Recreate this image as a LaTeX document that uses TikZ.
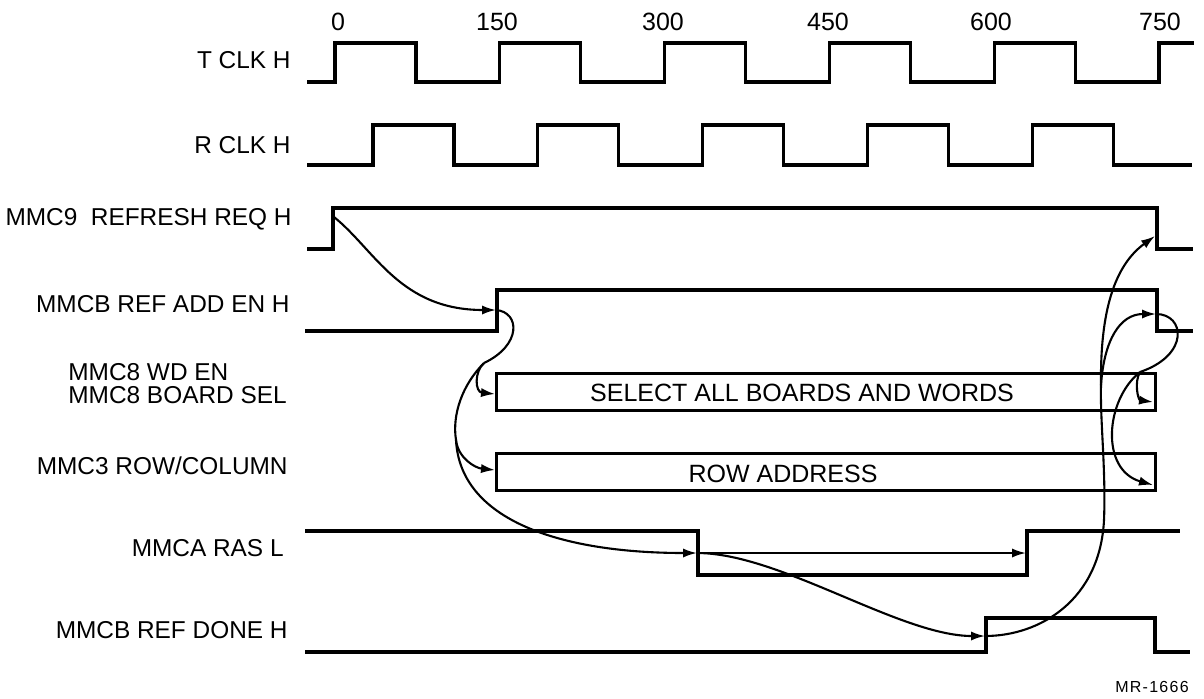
\documentclass[tikz,border=0pt]{standalone}
\usepackage{fontspec}
\setmainfont{Liberation Sans}
\usetikzlibrary{arrows.meta}

\begin{document}
\begin{tikzpicture}[
  x=0.5pt, y=-0.5pt,
  wave/.style={line width=1.6pt, line join=miter},
  bar/.style={line width=1.5pt},
  link/.style={line width=1.05pt},
  arrow/.style={link, -{Latex[length=7pt,width=4.6pt]}},
  sig/.style={anchor=east, inner sep=0pt, font=\fontsize{12.2}{15}\selectfont},
  tick/.style={inner sep=0pt, font=\fontsize{12.5}{15}\selectfont},
  inbar/.style={inner sep=0pt, font=\fontsize{12.5}{15}\selectfont},
]
  \useasboundingbox (0,0) rectangle (1204,698);

  % signal names
  \node[sig] (tclk) at (291,60) {T CLK H};
  \node[sig] (rclk) at (291,145) {R CLK H};
  \node[sig] (refreq) at (292,219) {MMC9\ \ REFRESH REQ H};
  \node[sig] (refadd) at (290,304) {MMCB REF ADD EN H};
  \node[sig, anchor=west, align=left, font=\fontsize{12.2}{11.5}\selectfont] (wden) at (68,384) {MMC8 WD EN\\MMC8 BOARD SEL};
  \node[sig] (rowcol) at (288,466) {MMC3 ROW/COLUMN};
  \node[sig] (rasl) at (284,548) {MMCA RAS L};
  \node[sig] (refdone) at (288,630) {MMCB REF DONE H};

  % time scale
  \foreach \t/\x in {0/338,150/497,300/663,450/828,600/991,750/1160}
    \node[tick] (t\t) at (\x,22) {\t};

  % clocks
  \draw[wave] (307,82) \foreach \k in {0,...,4} {
      -- ({335+164.8*\k},82) -- ({335+164.8*\k},43)
      -- ({416+164.8*\k},43) -- ({416+164.8*\k},82) }
    -- (1159,82) -- (1159,43) -- (1194,43);
  \draw[wave] (307,165) \foreach \k in {0,...,4} {
      -- ({373+164.8*\k},165) -- ({373+164.8*\k},125)
      -- ({454+164.8*\k},125) -- ({454+164.8*\k},165) }
    -- (1192,165);

  % control signals
  \draw[wave] (307,249) -- (333,249) -- (333,208) -- (1157,208) -- (1157,249) -- (1193,249);
  \draw[wave] (305,331) -- (497,331) -- (497,290) -- (1157,290) -- (1157,331) -- (1193,331);
  \draw[bar] (496,373) rectangle (1155,410);
  \node[inbar] (seltxt) at (802,393) {SELECT ALL BOARDS AND WORDS};
  \draw[bar] (496,453) rectangle (1155,490);
  \node[inbar] (rowtxt) at (783,474) {ROW ADDRESS};
  \draw[wave] (305,531) -- (698,531) -- (698,575) -- (1027,575) -- (1027,531) -- (1180,531);
  \draw[wave] (305,652) -- (986,652) -- (986,618) -- (1155,618) -- (1155,652) -- (1190,652);

  \node[inner sep=0pt, font=\fontsize{8}{10}\selectfont\addfontfeature{LetterSpace=8}] (fig) at (1152,687) {MR-1666};

  % edge points
  \coordinate (reqrise) at (334,217);
  \coordinate (reqfall) at (1155,236);
  \coordinate (addrise) at (496,310);
  \coordinate (addfall) at (1156,314);
  \coordinate (selL) at (495,394);
  \coordinate (selR) at (1153,402);
  \coordinate (rowL) at (495,470);
  \coordinate (rowR) at (1153,485);
  \coordinate (rasfall) at (697,553);
  \coordinate (rasrise) at (1026,553);
  \coordinate (donerise) at (985,636);
  \coordinate (lsplitA) at (484,363);
  \coordinate (lsplitB) at (456,440);
  \coordinate (rsplitA) at (1101,385);
  \coordinate (rsplitB) at (1140,372);

  % causes
  \draw[arrow] (reqrise) .. controls (375,250) and (400,310) .. (addrise);
  \draw[link] (addrise) .. controls (520,312) and (522,345) .. (lsplitA);
  \draw[arrow] (lsplitA) .. controls (474,372) and (475,392) .. (selL);
  \draw[link] (lsplitA) .. controls (462,385) and (452,415) .. (lsplitB);
  \draw[arrow] (lsplitB) .. controls (458,458) and (475,468) .. (rowL);
  \draw[arrow] (lsplitB) .. controls (460,520) and (560,553) .. (rasfall);

  \draw[arrow] (rasfall) -- (rasrise);
  \draw[arrow] (rasfall) .. controls (780,553) and (900,636) .. (donerise);

  \draw[link] (donerise) .. controls (1040,636) and (1100,600) .. (1104,520)
    .. controls (1106,470) and (1100,420) .. (rsplitA);
  \draw[arrow] (rsplitA) .. controls (1100,310) and (1115,265) .. (reqfall);
  \draw[arrow] (rsplitA) .. controls (1104,340) and (1120,314) .. (addfall);
  \draw[link] (addfall) .. controls (1185,314) and (1190,355) .. (rsplitB);
  \draw[arrow] (rsplitB) .. controls (1134,382) and (1138,400) .. (selR);
  \draw[arrow] (rsplitB) .. controls (1105,400) and (1100,470) .. (rowR);
\end{tikzpicture}
\end{document}
